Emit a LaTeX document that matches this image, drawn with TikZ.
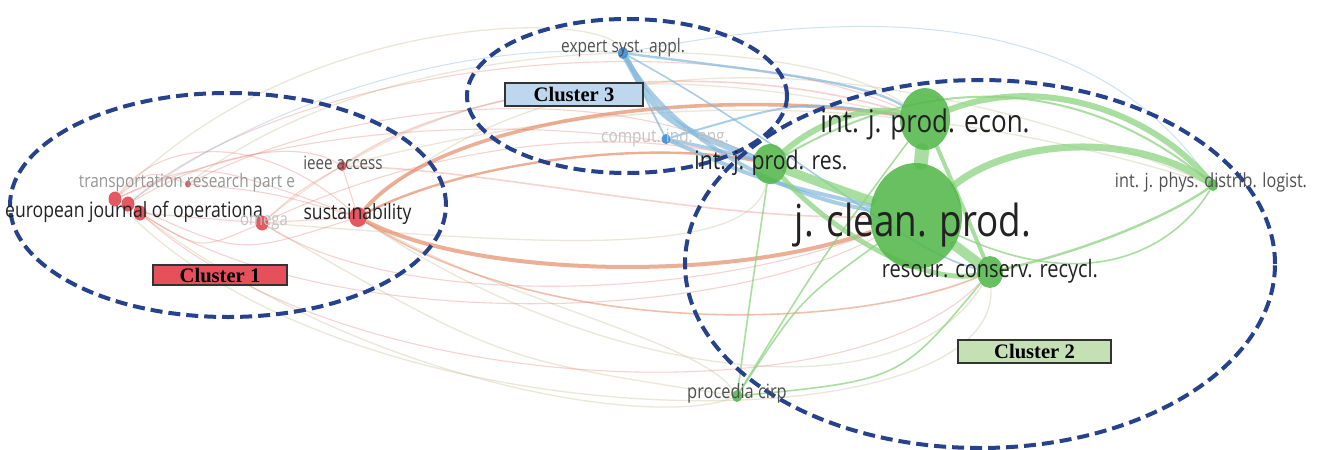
\documentclass[tikz,border=0pt]{standalone}
\usepackage{fontspec}
\setmainfont{Open Sans}
\newfontfamily\clfont{Liberation Serif}
\usetikzlibrary{shapes.geometric}
\pgfdeclarelayer{bg}
\pgfdeclarelayer{edges}
\pgfsetlayers{bg,edges,main}
\newcommand{\vstr}[1]{\scalebox{1}[1.2]{#1}}
\definecolor{clus}{RGB}{38,66,140}
\definecolor{ngreen}{RGB}{84,184,74}
\definecolor{egreen}{RGB}{140,212,128}
\definecolor{nred}{RGB}{226,72,80}
\definecolor{ered}{RGB}{236,120,110}
\definecolor{eorange}{RGB}{228,140,105}
\definecolor{nblue}{RGB}{58,140,210}
\definecolor{eblue}{RGB}{130,185,222}
\definecolor{etan}{RGB}{205,195,155}
\definecolor{boxred}{RGB}{230,80,90}
\definecolor{boxblue}{RGB}{190,215,238}
\definecolor{boxgreen}{RGB}{197,224,180}
\definecolor{tdark}{RGB}{34,34,34}
\definecolor{tmid}{RGB}{80,80,80}
\definecolor{tgray}{RGB}{150,150,150}
\definecolor{tlight}{RGB}{195,195,195}
\begin{document}
\begin{tikzpicture}[x=0.5pt,y=-0.5pt,
  dotbase/.style={ellipse, inner sep=0pt, draw=none},
  gdot/.style={dotbase, fill=ngreen, fill opacity=0.88},
  rdot/.style={dotbase, fill=nred, fill opacity=0.9},
  bdot/.style={dotbase, fill=nblue, fill opacity=0.9},
  ge/.style={draw=egreen, draw opacity=0.75, line cap=round},
  be/.style={draw=eblue, draw opacity=0.7, line cap=round},
  re/.style={draw=ered, draw opacity=0.33, line width=0.55pt},
  oe/.style={draw=eorange, draw opacity=0.7},
  te/.style={draw=etan, draw opacity=0.4, line width=0.65pt},
  clusline/.style={draw=clus, line width=2pt, dash pattern=on 6pt off 3pt},
  lab/.style={inner sep=0pt},
  cbox/.style={draw=black!80, line width=0.75pt, inner sep=0pt, font=\clfont\bfseries\fontsize{10.3}{11}\selectfont}
]
\useasboundingbox (0,0) rectangle (1318,450);
\begin{pgfonlayer}{bg}
\fill[white] (0,0) rectangle (1318,450);
\end{pgfonlayer}

% ---------- nodes (journals) ----------
\node[gdot, minimum width=46pt, minimum height=53pt] (jcp) at (916,216) {};
\node[gdot, minimum width=25pt, minimum height=31pt] (econ) at (925,119) {};
\node[gdot, minimum width=17pt, minimum height=20pt] (pres) at (770,164) {};
\node[gdot, minimum width=13pt, minimum height=16pt] (resour) at (990,272) {};
\node[gdot, minimum width=5pt, minimum height=6pt] (phys) at (1213,185) {};
\node[gdot, minimum width=5pt, minimum height=6pt] (proc) at (737,396) {};
\node[bdot, minimum width=5pt, minimum height=6pt] (expert) at (623,53) {};
\node[bdot, minimum width=4.5pt, minimum height=5pt] (comput) at (666,139) {};
\node[rdot, minimum width=9pt, minimum height=10pt] (sust) at (358,217) {};
\node[rdot, minimum width=4.5pt, minimum height=5pt] (ieee) at (342,166) {};
\node[rdot, minimum width=6.5pt, minimum height=7.5pt] (omega) at (262,223) {};
\node[rdot, minimum width=3pt, minimum height=3.5pt] (transp) at (188,184) {};
\node[rdot, minimum width=6.5pt, minimum height=7.5pt] (ejo1) at (115,199) {};
\node[rdot, minimum width=6.5pt, minimum height=7.5pt] (ejo2) at (128,204) {};
\node[rdot, minimum width=6.5pt, minimum height=7.5pt] (ejo3) at (140,213) {};

% ---------- links ----------
\begin{pgfonlayer}{edges}
% faint long arcs
\draw[te] (ejo2) .. controls (350,380) and (650,430) .. (proc);
\draw[te] (omega) .. controls (500,360) .. (proc);
\draw[te] (sust) .. controls (520,60) and (820,20) .. (phys);
\draw[te] (transp) .. controls (400,20) and (800,30) .. (econ);
\draw[te] (sust) .. controls (600,380) and (900,420) .. (resour);
\draw[te] (ejo1) .. controls (350,450) and (1000,450) .. (resour);
\draw[te] (omega) .. controls (500,240) and (750,265) .. (pres);
\draw[te] (ieee) .. controls (520,120) and (820,60) .. (phys);
\draw[te] (ejo1) .. controls (300,10) and (600,10) .. (expert);
\draw[te] (sust) .. controls (500,300) and (700,340) .. (proc);
\draw[te] (omega) .. controls (450,70) and (650,60) .. (econ);
% cluster 1 internal
\draw[re] (ejo1) .. controls (200,160) .. (sust);
\draw[re] (ejo2) .. controls (240,255) .. (sust);
\draw[re] (ejo3) -- (omega);
\draw[re] (transp) .. controls (270,192) .. (sust);
\draw[re] (omega) -- (sust);
\draw[re] (ejo1) .. controls (150,170) .. (transp);
\draw[re] (ieee) -- (sust);
\draw[re] (ejo2) .. controls (220,150) and (300,140) .. (ieee);
\draw[re] (omega) .. controls (300,190) .. (ieee);
\draw[re] (ejo3) .. controls (200,250) .. (omega);
\draw[re] (ejo1) .. controls (160,140) and (260,130) .. (sust);
% cluster 1 to others
\draw[oe, line width=2pt] (sust) .. controls (470,275) and (720,285) .. (jcp);
\draw[oe, line width=1.8pt] (sust) .. controls (440,120) and (700,85) .. (econ);
\draw[oe, line width=1.2pt] (sust) .. controls (470,160) and (650,140) .. (pres);
\draw[oe, line width=0.8pt, draw opacity=0.55] (sust) .. controls (550,340) and (850,330) .. (resour);
\draw[re, line width=0.8pt] (ieee) .. controls (450,90) and (700,50) .. (econ);
\draw[re, line width=0.8pt] (ieee) .. controls (500,170) and (700,220) .. (jcp);
\draw[re] (omega) .. controls (400,310) and (700,300) .. (jcp);
\draw[re] (omega) .. controls (420,150) and (600,120) .. (pres);
\draw[re] (ejo2) .. controls (300,60) and (700,20) .. (econ);
\draw[re] (ejo2) .. controls (300,330) and (700,330) .. (jcp);
\draw[re] (ejo3) .. controls (350,400) and (850,420) .. (resour);
\draw[re] (transp) .. controls (350,100) and (600,80) .. (pres);
\draw[re] (ejo1) .. controls (300,120) and (560,110) .. (pres);
% blue cluster
\draw[be, line width=3pt] (expert) .. controls (660,120) .. (pres);
\draw[be, line width=2pt] (expert) .. controls (680,150) and (800,200) .. (jcp);
\draw[be, line width=1.2pt] (expert) .. controls (750,70) and (860,80) .. (econ);
\draw[be, line width=2pt] (comput) .. controls (760,180) .. (jcp);
\draw[be, line width=1.5pt] (comput) .. controls (720,150) .. (pres);
\draw[be, line width=1pt] (expert) -- (comput);
\draw[be, line width=1pt] (comput) .. controls (800,100) .. (econ);
\draw[be, line width=0.8pt] (expert) .. controls (800,150) and (900,250) .. (resour);
\draw[be, line width=0.5pt, draw opacity=0.4] (expert) .. controls (900,0) and (1100,20) .. (phys);
\draw[be, line width=0.5pt, draw opacity=0.4] (expert) .. controls (450,40) and (250,110) .. (ejo2);
% green cluster
\draw[ge, line width=7pt] (jcp) -- (econ);
\draw[ge, line width=5pt] (jcp) -- (resour);
\draw[ge, line width=4.5pt] (jcp) .. controls (840,190) .. (pres);
\draw[ge, line width=3pt] (pres) .. controls (820,120) and (870,105) .. (econ);
\draw[ge, line width=3pt] (econ) .. controls (1040,75) and (1150,110) .. (phys);
\draw[ge, line width=3.5pt] (jcp) .. controls (1010,140) and (1130,130) .. (phys);
\draw[ge, line width=1.2pt] (resour) .. controls (1090,250) and (1170,215) .. (phys);
\draw[ge, line width=2.5pt] (pres) .. controls (840,240) and (930,285) .. (resour);
\draw[ge, line width=2pt] (econ) .. controls (960,200) .. (resour);
\draw[ge, line width=0.8pt] (jcp) .. controls (800,300) .. (proc);
\draw[ge, line width=0.8pt] (pres) .. controls (750,300) .. (proc);
\draw[ge, line width=0.8pt] (econ) .. controls (820,260) .. (proc);
\draw[ge, line width=0.8pt] (resour) .. controls (900,380) .. (proc);
\draw[ge, line width=1pt] (pres) .. controls (950,60) and (1100,90) .. (phys);
\draw[ge, line width=0.8pt] (jcp) .. controls (1100,300) and (1180,240) .. (phys);
\end{pgfonlayer}

% ---------- cluster outlines ----------
\draw[clusline] (228,205) ellipse [x radius=109pt, y radius=56pt];
\draw[clusline] (627,96) ellipse [x radius=80pt, y radius=38.5pt];
\draw[clusline] (980,264) ellipse [x radius=147.5pt, y radius=92pt];

% ---------- labels ----------
\node[lab, text=tdark, font=\fontsize{8.8}{10}\selectfont] (tejo) at (134,212) {\vstr{european journal of operationa}};
\node[lab, text=tgray, font=\fontsize{7.7}{9}\selectfont] (ttransp) at (187,183) {\vstr{transportation research part e}};
\node[lab, text=tlight, font=\fontsize{7.5}{9}\selectfont] (tomega) at (264,223) {\vstr{omega}};
\node[lab, text=tmid, font=\fontsize{7.6}{9}\selectfont] (tieee) at (343,163) {\vstr{ieee access}};
\node[lab, text=tdark, font=\fontsize{8.8}{10}\selectfont] (tsust) at (357.5,214) {\vstr{sustainability}};
\node[lab, text=tmid, font=\fontsize{7.75}{9}\selectfont] (texpert) at (623,48) {\vstr{expert syst. appl.}};
\node[lab, text=tlight, font=\fontsize{7.7}{9}\selectfont] (tcomput) at (665,138) {\vstr{comput. ind. eng.}};
\node[lab, text=tdark, font=\fontsize{10.6}{12}\selectfont] (tpres) at (771,163) {\vstr{int. j. prod. res.}};
\node[lab, text=tdark, font=\fontsize{13}{15}\selectfont] (tecon) at (925,124) {\vstr{int. j. prod. econ.}};
\node[lab, text=tdark, font=\fontsize{18.4}{20}\selectfont] (tjcp) at (913,225) {\vstr{j. clean. prod.}};
\node[lab, text=tdark, font=\fontsize{10}{12}\selectfont] (tresour) at (990,271) {\vstr{resour. conserv. recycl.}};
\node[lab, text=tmid, font=\fontsize{8.1}{10}\selectfont] (tphys) at (1211,182) {\vstr{int. j. phys. distrib. logist.}};
\node[lab, text=tmid, font=\fontsize{8.2}{10}\selectfont] (tproc) at (737,393) {\vstr{procedia cirp}};

% ---------- cluster tags ----------
\node[cbox, fill=boxred, minimum width=67pt, minimum height=10pt] (c1) at (220,275) {Cluster 1};
\node[cbox, fill=boxblue, minimum width=69pt, minimum height=11.5pt] (c3) at (574,94.5) {Cluster 3};
\node[cbox, fill=boxgreen, minimum width=76.5pt, minimum height=11.5pt] (c2) at (1034.5,351.5) {Cluster 2};
\end{tikzpicture}
\end{document}
